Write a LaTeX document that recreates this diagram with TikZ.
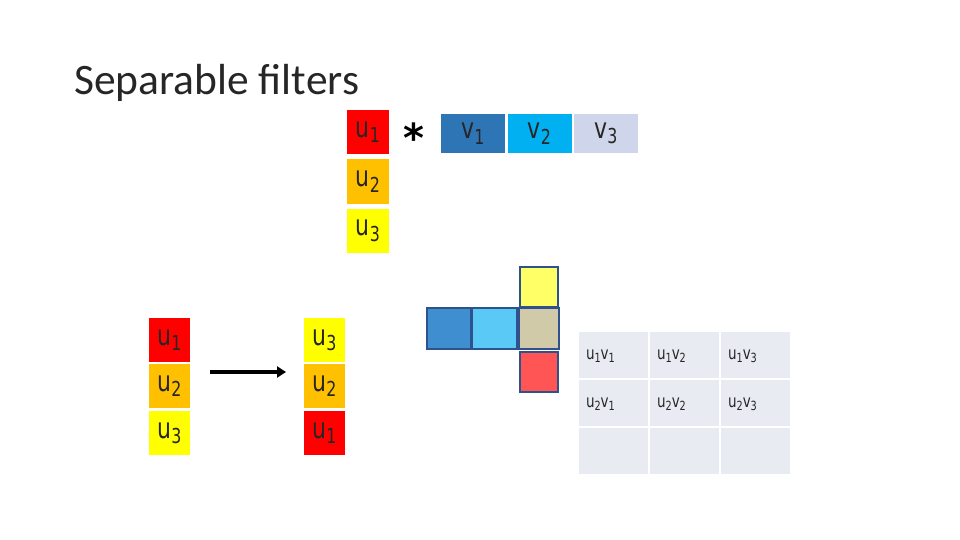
\documentclass[tikz,border=0pt]{standalone}
\usepackage{fontspec}
\usepackage{graphicx}
\setmainfont{DejaVu Sans}
\newfontfamily\titlefont{Carlito}
\usetikzlibrary{arrows.meta}
\definecolor{ured}{HTML}{FF0000}
\definecolor{uorange}{HTML}{FFC000}
\definecolor{uyellow}{HTML}{FFFF00}
\definecolor{vone}{HTML}{2E75B6}
\definecolor{vtwo}{HTML}{00B0F0}
\definecolor{vthree}{HTML}{CFD5EA}
\definecolor{gridfill}{HTML}{E9EBF3}
\definecolor{crossborder}{HTML}{2F528F}
\definecolor{cblue}{HTML}{3F8ED0}
\definecolor{clight}{HTML}{5BC9F5}
\definecolor{ctan}{HTML}{D1CAA9}
\definecolor{cyel}{HTML}{FFFF66}
\definecolor{cred}{HTML}{FF5555}
\newcommand{\lbl}[2]{#1\raisebox{-0.35ex}{\scalebox{0.72}{#2}}}
\newcommand{\tallt}[1]{\scalebox{1}[1.3]{#1}}
\tikzset{
  cell/.style={draw=none, inner sep=0pt, text=black!85, font=\fontsize{22}{24}\selectfont},
  ucell/.style={cell, minimum width=42pt, minimum height=44pt},
  vcell/.style={cell, minimum width=64pt, minimum height=39pt},
  crossbox/.style={draw=crossborder, line width=2pt, inner sep=0pt},
  gcell/.style={fill=gridfill, inner sep=0pt, minimum width=69pt, minimum height=46pt},
  gtext/.style={anchor=north west, inner sep=0pt, font=\fontsize{13.5}{15}\selectfont, text=black!85},
}
\begin{document}
\begin{tikzpicture}[x=1pt,y=-1pt]
\useasboundingbox (0,0) rectangle (960,540);
\node[anchor=base west, inner sep=0pt, font=\titlefont\fontsize{43.5}{46}\selectfont, text=black!85] (title) at (74,95) {Separable filters};
% top u column
\node[ucell, fill=ured] (tu1) at (368,132) {\raisebox{-4pt}{\tallt{\lbl{u}{1}}}};
\node[ucell, fill=uorange] (tu2) at (368,181.5) {\raisebox{-4pt}{\tallt{\lbl{u}{2}}}};
\node[ucell, fill=uyellow] (tu3) at (368,230.5) {\raisebox{-4pt}{\tallt{\lbl{u}{3}}}};
\node[inner sep=0pt, font=\fontsize{40}{40}\selectfont\bfseries] (ast) at (414,138) {*};
% v row
\node[vcell, fill=vone] (v1) at (473,133.5) {\raisebox{-3pt}{\tallt{\lbl{v}{1}}}};
\node[vcell, fill=vtwo] (v2) at (539.5,133.5) {\raisebox{-3pt}{\tallt{\lbl{v}{2}}}};
\node[vcell, fill=vthree] (v3) at (606,133.5) {\raisebox{-3pt}{\tallt{\lbl{v}{3}}}};
% bottom-left columns
\node[ucell, minimum width=41pt, fill=ured] (lu1) at (169.5,340) {\raisebox{-4pt}{\tallt{\lbl{u}{1}}}};
\node[ucell, minimum width=41pt, fill=uorange] (lu2) at (169.5,386) {\raisebox{-4pt}{\tallt{\lbl{u}{2}}}};
\node[ucell, minimum width=41pt, fill=uyellow] (lu3) at (169.5,433) {\raisebox{-4pt}{\tallt{\lbl{u}{3}}}};
\node[ucell, minimum width=41pt, fill=uyellow] (ru3) at (324.5,340) {\raisebox{-4pt}{\tallt{\lbl{u}{3}}}};
\node[ucell, minimum width=41pt, fill=uorange] (ru2) at (324.5,386) {\raisebox{-4pt}{\tallt{\lbl{u}{2}}}};
\node[ucell, minimum width=41pt, fill=ured] (ru1) at (324.5,433) {\raisebox{-4pt}{\tallt{\lbl{u}{1}}}};
\coordinate (as) at (210,372);
\coordinate (ae) at (286,372);
\draw[line width=4pt, -{Triangle[length=9pt,width=11pt]}] (as) -- (ae);
% cross
\node[crossbox, fill=cyel, minimum width=38pt, minimum height=40pt] (cy) at (539,287) {};
\node[crossbox, fill=cred, minimum width=38pt, minimum height=40pt] (cr) at (539,372) {};
\node[crossbox, fill=cblue, minimum width=44pt, minimum height=41pt] (cb1) at (449,328) {};
\node[crossbox, fill=clight, minimum width=45pt, minimum height=41pt] (cb2) at (494,328) {};
\node[crossbox, fill=ctan, minimum width=40pt, minimum height=41pt] (cb3) at (539,328) {};
% grid
\foreach \c/\x in {1/613.5,2/684.5,3/755.5}{
  \foreach \r/\y in {1/354.5,2/402.5,3/451}{
    \node[gcell] (g\r\c) at (\x,\y) {};
  }
}
\node[gtext] (t11) at ([xshift=7pt,yshift=-18pt]g11.north west) {\tallt{\lbl{u}{1}\lbl{v}{1}}};
\node[gtext] (t12) at ([xshift=7pt,yshift=-18pt]g12.north west) {\tallt{\lbl{u}{1}\lbl{v}{2}}};
\node[gtext] (t13) at ([xshift=7pt,yshift=-18pt]g13.north west) {\tallt{\lbl{u}{1}\lbl{v}{3}}};
\node[gtext] (t21) at ([xshift=7pt,yshift=-18pt]g21.north west) {\tallt{\lbl{u}{2}\lbl{v}{1}}};
\node[gtext] (t22) at ([xshift=7pt,yshift=-18pt]g22.north west) {\tallt{\lbl{u}{2}\lbl{v}{2}}};
\node[gtext] (t23) at ([xshift=7pt,yshift=-18pt]g23.north west) {\tallt{\lbl{u}{2}\lbl{v}{3}}};
\end{tikzpicture}
\end{document}
